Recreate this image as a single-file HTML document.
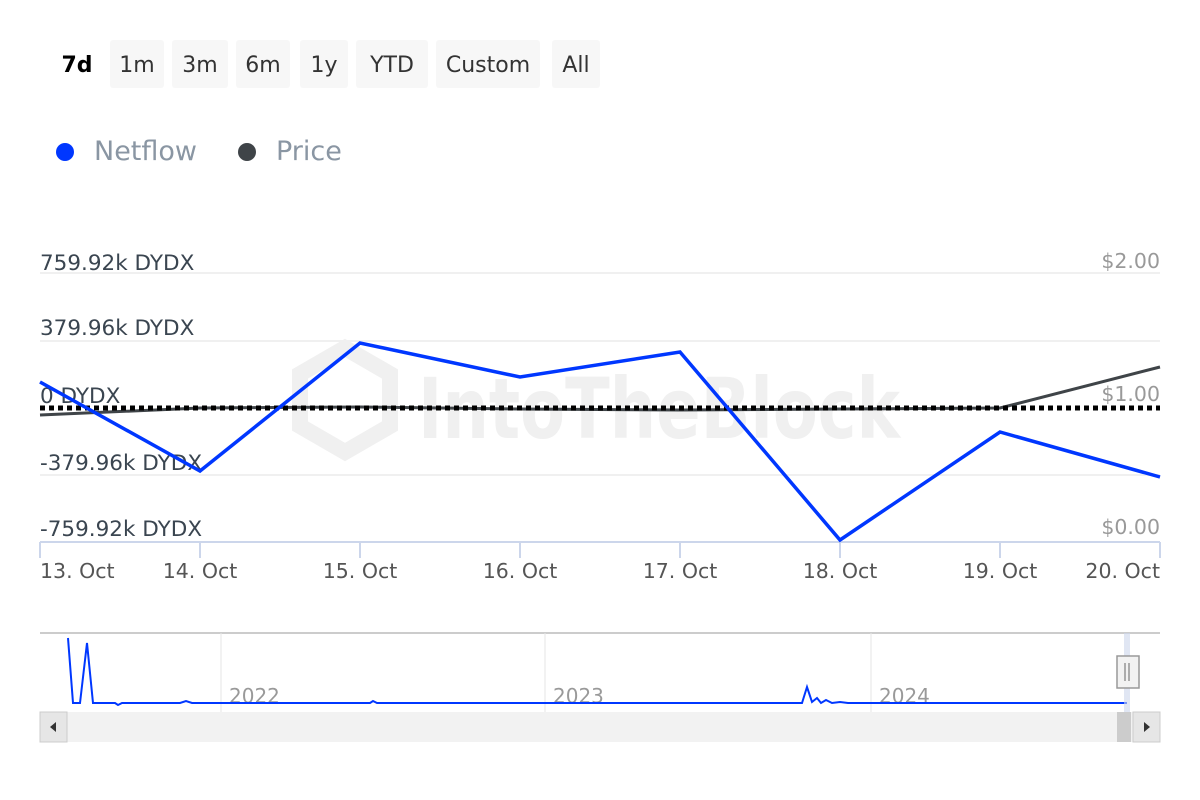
<!DOCTYPE html>
<html><head><style>
body{margin:0;background:#fff;width:1200px;height:800px;overflow:hidden;font-family:"DejaVu Sans","Liberation Sans",sans-serif}
.b{position:absolute;top:40px;height:48px;background:#f7f7f7;border-radius:3px;font-size:22px;color:#333;line-height:52px;text-align:center}
</style></head><body>
<div class="b" style="left:52px;width:50px;background:none;font-weight:bold;color:#000">7d</div>
<div class="b" style="left:110px;width:54px">1m</div>
<div class="b" style="left:172px;width:56px">3m</div>
<div class="b" style="left:236px;width:54px">6m</div>
<div class="b" style="left:300px;width:48px">1y</div>
<div class="b" style="left:356px;width:72px">YTD</div>
<div class="b" style="left:436px;width:104px">Custom</div>
<div class="b" style="left:552px;width:48px">All</div>
<svg width="1200" height="800" style="position:absolute;left:0;top:0" font-family="DejaVu Sans, Liberation Sans, sans-serif">
<circle cx="65" cy="152" r="9" fill="#0037ff"/>
<text x="94" y="160" font-size="27" fill="#8a96a3">Netflow</text>
<circle cx="247" cy="152" r="9" fill="#3f4448"/>
<text x="276" y="160" font-size="27" fill="#8a96a3">Price</text>
<g stroke="#f0f0f0" stroke-width="16" fill="none"><polygon points="345,348 390,374 390,426 345,452 300,426 300,374"/></g>
<text x="418" y="438" font-size="84" font-weight="bold" fill="#f0f0f0" textLength="482" lengthAdjust="spacingAndGlyphs">IntoTheBlock</text>
<g stroke="#f0f0f0" stroke-width="2">
<line x1="40" y1="273" x2="1160" y2="273"/><line x1="40" y1="341" x2="1160" y2="341"/>
<line x1="40" y1="475" x2="1160" y2="475"/></g>
<line x1="40" y1="542" x2="1160" y2="542" stroke="#ccd6eb" stroke-width="2"/>
<g stroke="#ccd6eb" stroke-width="2">
<line x1="40" y1="542" x2="40" y2="558"/><line x1="200" y1="542" x2="200" y2="558"/><line x1="360" y1="542" x2="360" y2="558"/><line x1="520" y1="542" x2="520" y2="558"/><line x1="680" y1="542" x2="680" y2="558"/><line x1="840" y1="542" x2="840" y2="558"/><line x1="1000" y1="542" x2="1000" y2="558"/><line x1="1160" y1="542" x2="1160" y2="558"/></g>
<g font-size="21.5" fill="#3a4550">
<text x="40" y="270">759.92k DYDX</text><text x="40" y="335">379.96k DYDX</text><text x="40" y="403">0 DYDX</text><text x="40" y="470">-379.96k DYDX</text><text x="40" y="536">-759.92k DYDX</text></g>
<g font-size="20.5" fill="#999" text-anchor="end">
<text x="1160" y="268">$2.00</text><text x="1160" y="401">$1.00</text><text x="1160" y="534">$0.00</text></g>
<g font-size="20.5" fill="#555" text-anchor="middle">
<text x="40" y="578" text-anchor="start">13. Oct</text><text x="200" y="578">14. Oct</text><text x="360" y="578">15. Oct</text><text x="520" y="578">16. Oct</text><text x="680" y="578">17. Oct</text><text x="840" y="578">18. Oct</text><text x="1000" y="578">19. Oct</text><text x="1160" y="578" text-anchor="end">20. Oct</text></g>
<polyline fill="none" stroke="#3f4448" stroke-width="3" points="40,415 200,408 360,407 520,409 680,410 840,409 1000,408 1160,367"/>
<line x1="40" y1="408" x2="1160" y2="408" stroke="#000" stroke-width="5" stroke-dasharray="5,4"/>
<polyline fill="none" stroke="#0037ff" stroke-width="3.5" points="40,382 200,471 360,343 520,377 680,352 840,540 1000,432 1160,477"/>
<line x1="40" y1="633" x2="1160" y2="633" stroke="#ccc" stroke-width="2"/>
<g stroke="#e6e6e6" stroke-width="1"><line x1="221" y1="633" x2="221" y2="712"/><line x1="545" y1="633" x2="545" y2="712"/><line x1="871" y1="633" x2="871" y2="712"/></g>
<g font-size="20" fill="#999"><text x="229" y="703">2022</text><text x="553" y="703">2023</text><text x="879" y="703">2024</text></g>
<polyline fill="none" stroke="#0037ff" stroke-width="2" points="68,638 73,703 80,703 87,643 93,703 115,703 118,705 122,703 180,703 186,701 192,703 370,703 373,701 377,703 802,703 807,687 812,702 817,698 821,703 826,700 832,703 840,702 848,703 1127,703"/>
<rect x="1124" y="633" width="6" height="79" fill="#ccd6eb" opacity="0.6"/>
<rect x="1117" y="656" width="22" height="32" fill="#f2f2f2" stroke="#999" stroke-width="1.5"/>
<line x1="1125" y1="663" x2="1125" y2="681" stroke="#666"/><line x1="1129" y1="663" x2="1129" y2="681" stroke="#666"/>
<rect x="40" y="712" width="1120" height="30" fill="#f2f2f2"/>
<rect x="40" y="712" width="27" height="30" fill="#e6e6e6" stroke="#ccc"/>
<polygon points="56,722 50,727 56,732" fill="#333"/>
<rect x="1117" y="712" width="14" height="30" fill="#ccc"/>
<rect x="1133" y="712" width="27" height="30" fill="#e6e6e6" stroke="#ccc"/>
<polygon points="1144,722 1150,727 1144,732" fill="#333"/>
</svg>
</body></html>
